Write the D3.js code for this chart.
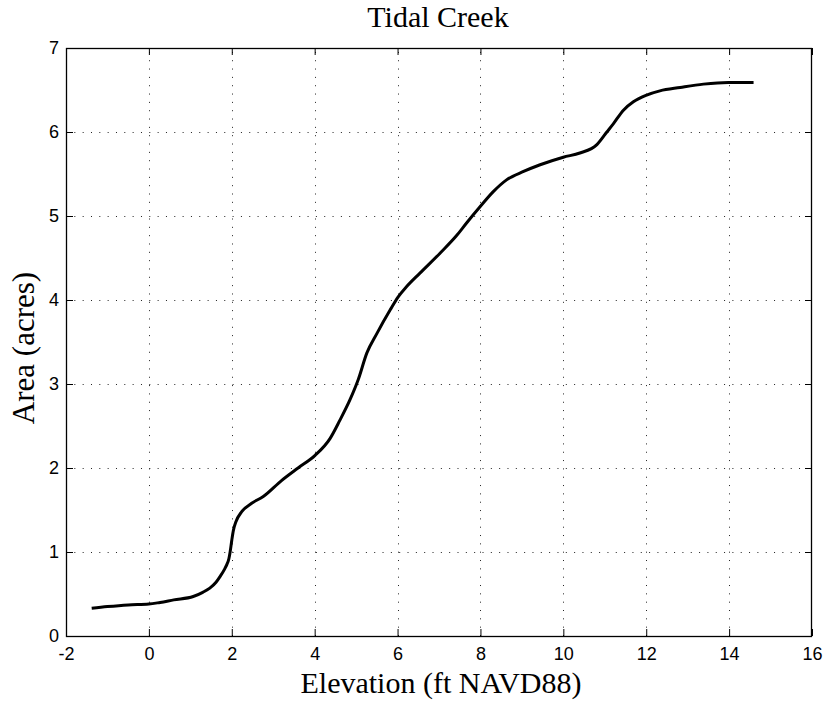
<!DOCTYPE html>
<html>
<head>
<meta charset="utf-8">
<script src="https://cdn.jsdelivr.net/npm/d3@7"></script>
<style>
  html, body { margin: 0; padding: 0; background: #fff; }
  svg { display: block; }
</style>
</head>
<body>
<svg id="chart" width="825" height="708"></svg>
<script>
const titleText = "Tidal Creek";
const xLabel = "Elevation (ft NAVD88)";
const yLabel = "Area (acres)";
const xTicks = [-2, 0, 2, 4, 6, 8, 10, 12, 14, 16];
const yTicks = [0, 1, 2, 3, 4, 5, 6, 7];
const elevation = [-1.38, -1.0, -0.5, 0.0, 0.27, 0.6, 1.07, 1.3, 1.47, 1.62, 1.72, 1.82, 1.88, 1.93, 1.96, 2.0, 2.04, 2.1, 2.24, 2.48, 2.76, 3.2, 3.6, 4.01, 4.37, 4.61, 4.85, 5.05, 5.26, 5.5, 5.82, 6.02, 6.22, 6.54, 7.03, 7.43, 7.67, 7.99, 8.31, 8.63, 9.04, 9.44, 10.0, 10.4, 10.81, 11.05, 11.21, 11.45, 11.69, 12.01, 12.33, 12.82, 13.38, 13.98, 14.59];
const area = [0.33, 0.35, 0.37, 0.38, 0.40, 0.43, 0.47, 0.52, 0.57, 0.64, 0.71, 0.79, 0.85, 0.92, 1.0, 1.14, 1.26, 1.36, 1.48, 1.58, 1.66, 1.85, 2.0, 2.15, 2.35, 2.57, 2.81, 3.05, 3.37, 3.60, 3.88, 4.04, 4.16, 4.32, 4.56, 4.77, 4.92, 5.11, 5.29, 5.43, 5.53, 5.61, 5.70, 5.75, 5.85, 6.0, 6.10, 6.26, 6.36, 6.44, 6.49, 6.53, 6.57, 6.59, 6.59];

const L = 66, R = 812, T = 48, B = 636;
const svg = d3.select("#chart");
svg.append("rect").attr("width", 825).attr("height", 708).attr("fill", "#fff");

const x = d3.scaleLinear().domain([-2, 16]).range([L, R]);
const y = d3.scaleLinear().domain([0, 7]).range([B, T]);

const tickFont = "'Liberation Sans', Arial, Helvetica, sans-serif";
const serif = "'Liberation Serif', 'Times New Roman', Times, serif";
const fmt = d => String(d);

// grid
const grid = svg.append("g").attr("stroke", "#222").attr("stroke-width", 1)
  .attr("stroke-dasharray", "1 7.33");
grid.selectAll("line.gx").data(xTicks.slice(1, -1)).join("line")
  .attr("x1", d => Math.round(x(d)) + 0.5).attr("x2", d => Math.round(x(d)) + 0.5)
  .attr("y1", B).attr("y2", T);
grid.selectAll("line.gy").data(yTicks.slice(1, -1)).join("line")
  .attr("y1", d => Math.round(y(d)) + 0.5).attr("y2", d => Math.round(y(d)) + 0.5)
  .attr("x1", L).attr("x2", R);

// axes
const tl = 7;
function styleAxis(g) {
  g.select(".domain").remove();
  g.selectAll(".tick line").attr("stroke", "#000").attr("stroke-width", 1);
  g.selectAll(".tick text").attr("font-family", tickFont).attr("font-size", 18).attr("fill", "#000");
}
svg.append("g").attr("transform", `translate(0,${B})`)
  .call(d3.axisBottom(x).tickValues(xTicks).tickSizeInner(-tl).tickSizeOuter(0).tickPadding(11).tickFormat(fmt))
  .call(styleAxis);
svg.append("g").attr("transform", `translate(0,${T})`)
  .call(d3.axisTop(x).tickValues(xTicks).tickSizeInner(-tl).tickSizeOuter(0).tickFormat(""))
  .call(styleAxis);
svg.append("g").attr("transform", `translate(${L},0)`)
  .call(d3.axisLeft(y).tickValues(yTicks).tickSizeInner(-tl).tickSizeOuter(0).tickPadding(7).tickFormat(fmt))
  .call(styleAxis);
svg.append("g").attr("transform", `translate(${R},0)`)
  .call(d3.axisRight(y).tickValues(yTicks).tickSizeInner(-tl).tickSizeOuter(0).tickFormat(""))
  .call(styleAxis);

svg.append("rect").attr("x", L + 0.5).attr("y", T + 0.5).attr("width", R - L - 1).attr("height", B - T)
  .attr("fill", "none").attr("stroke", "#000").attr("stroke-width", 1.3);

// curve
const pts = elevation.map((e, i) => [e, area[i]]);
svg.append("path").datum(pts)
  .attr("fill", "none").attr("stroke", "#000").attr("stroke-width", 3)
  .attr("stroke-linejoin", "round")
  .attr("d", d3.line().x(d => x(d[0])).y(d => y(d[1])).curve(d3.curveMonotoneX));

// labels
svg.append("text").attr("x", 438).attr("y", 27).attr("text-anchor", "middle")
  .attr("font-family", serif).attr("font-size", 30).text(titleText);
svg.append("text").attr("x", 441).attr("y", 693).attr("text-anchor", "middle")
  .attr("font-family", serif).attr("font-size", 30).text(xLabel);
svg.append("text").attr("transform", "translate(34,348) rotate(-90)").attr("text-anchor", "middle")
  .attr("font-family", serif).attr("font-size", 31).text(yLabel);
</script>
</body>
</html>
